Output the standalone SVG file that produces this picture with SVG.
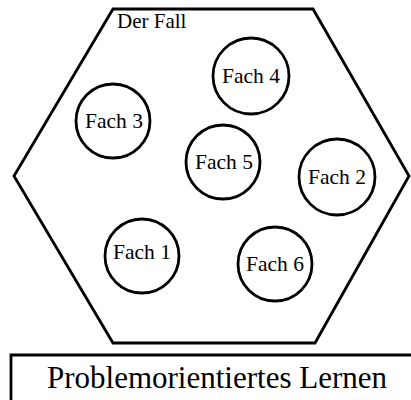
<svg xmlns="http://www.w3.org/2000/svg" width="411" height="400" viewBox="0 0 411 400">
<style>
.shape{fill:none;stroke:#000;stroke-width:2.8}
.node{fill:#fff;stroke:#000;stroke-width:2.8}
text{font-family:"Liberation Serif","Times New Roman",serif;fill:#000}
.lbl{font-size:21.5px;text-anchor:middle}
</style>
<rect width="411" height="400" fill="#fff"/>
<g id="fall">
<polygon class="shape" points="113,9 313,9 409,176 315,343 113,343 14,176"/>
<text x="117" y="28" font-size="21">Der Fall</text>
</g>
<g id="connectors"></g>
<g id="fach4"><circle class="node" cx="251" cy="76" r="38"/><text class="lbl" x="251" y="83">Fach 4</text></g>
<g id="fach3"><circle class="node" cx="113" cy="121" r="37"/><text class="lbl" x="114" y="128">Fach 3</text></g>
<g id="fach5"><circle class="node" cx="223" cy="162" r="37"/><text class="lbl" x="224" y="169">Fach 5</text></g>
<g id="fach2"><circle class="node" cx="337" cy="177" r="38"/><text class="lbl" x="337" y="184">Fach 2</text></g>
<g id="fach1"><circle class="node" cx="142" cy="256" r="37"/><text class="lbl" x="142" y="259">Fach 1</text></g>
<g id="fach6"><circle class="node" cx="275" cy="264" r="37"/><text class="lbl" x="275" y="271">Fach 6</text></g>
<g id="pol">
<polyline class="shape" points="11,402 11,355 413,355"/>
<text x="217" y="388" font-size="31" text-anchor="middle">Problemorientiertes Lernen</text>
</g>
</svg>
